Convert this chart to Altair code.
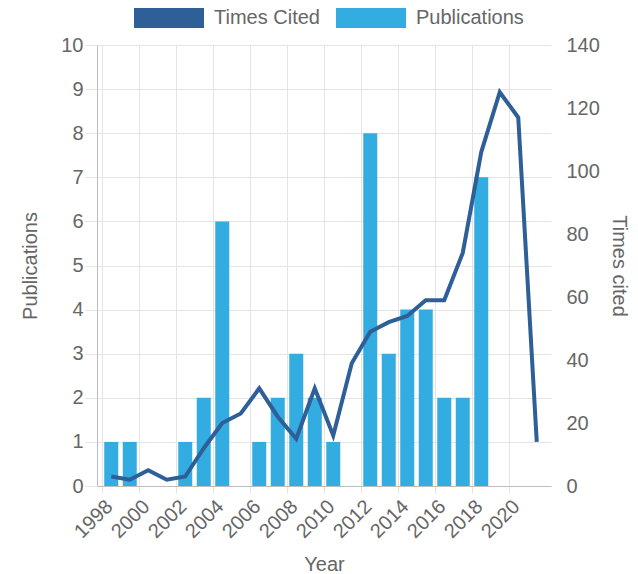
import altair as alt
import pandas as pd

years = list(range(1998, 2022))
publications = [1, 1, 0, 0, 1, 2, 6, 0, 1, 2, 3, 2, 1, 0, 8, 3, 4, 4, 2, 2, 7, 0, 0, 0]
times_cited = [3, 2, 5, 2, 3, 12, 20, 23, 31, 22, 15, 31, 16, 39, 49, 52, 54, 59, 59, 74, 106, 125, 117, 14]
series_names = ["Times Cited", "Publications"]
series_colors = ["#2E5F97", "#33ACE1"]
x_ticks = list(range(1998, 2021, 2))
pub_ticks = list(range(0, 11))
cite_ticks = list(range(0, 141, 20))

df_pub = pd.DataFrame({"Year": years, "value": publications, "series": "Publications"})
df_cit = pd.DataFrame({"Year": years, "value": times_cited, "series": "Times Cited"})

FONT = "Liberation Sans"
TXT = "#666666"
GRID = "#e4e4e4"
AXIS = "#bdbdbd"
FS = 20

x_enc = alt.X(
    "xmid:Q",
    scale=alt.Scale(domain=[1998, 2022], nice=False, zero=False),
    axis=alt.Axis(
        values=x_ticks, format="d", labelAngle=-45, labelAlign="right",
        labelBaseline="top", labelPadding=3, tickSize=7, tickColor=GRID,
        grid=True, gridColor=GRID, domainColor=AXIS, title="Year",
        titlePadding=13, labelOverlap=False,
    ),
)

bars = alt.Chart(df_pub).transform_calculate(xmid="datum.Year + 0.5").mark_bar(size=14).encode(
    x=x_enc,
    y=alt.Y(
        "value:Q", scale=alt.Scale(domain=[0, 10], nice=False),
        axis=alt.Axis(values=pub_ticks, title="Publications", grid=True, gridColor=GRID,
                      tickSize=12, tickColor=GRID, domainColor=AXIS, labelPadding=2,
                      titlePadding=20, orient="left"),
    ),
    fill=alt.Fill(
        "series:N",
        scale=alt.Scale(domain=series_names, range=series_colors),
        legend=alt.Legend(
            title=None, orient="none", direction="horizontal", legendX=62, legendY=-37,
            symbolType="M-3.5,-1H3.5V1H-3.5Z", symbolSize=400,
            symbolStrokeWidth=0, labelOffset=35, columnPadding=16, labelLimit=300,
            labelFontSize=FS, labelColor=TXT, labelFont=FONT,
        ),
    ),
)

line = alt.Chart(df_cit).transform_calculate(xmid="datum.Year + 0.5").mark_line(strokeWidth=4).encode(
    x=x_enc,
    y=alt.Y(
        "value:Q", scale=alt.Scale(domain=[0, 140], nice=False),
        axis=alt.Axis(values=cite_ticks, title="Times cited", grid=False, ticks=False,
                      domain=False, labelPadding=15, titlePadding=9, orient="right"),
    ),
    stroke=alt.Stroke("series:N", scale=alt.Scale(domain=series_names, range=series_colors),
                      legend=None),
)

chart = alt.layer(bars, line).resolve_scale(y="independent").properties(
    width=454, height=441, padding={"left": 12, "top": 0, "right": 0, "bottom": 0}
).configure_view(strokeWidth=0).configure_axis(
    labelFont=FONT, labelFontSize=FS, labelColor=TXT,
    titleFont=FONT, titleFontSize=FS, titleColor=TXT, titleFontWeight="normal",
).configure_legend(labelFont=FONT)

chart.save("out.html", embed_options={"renderer": "svg", "actions": False})
